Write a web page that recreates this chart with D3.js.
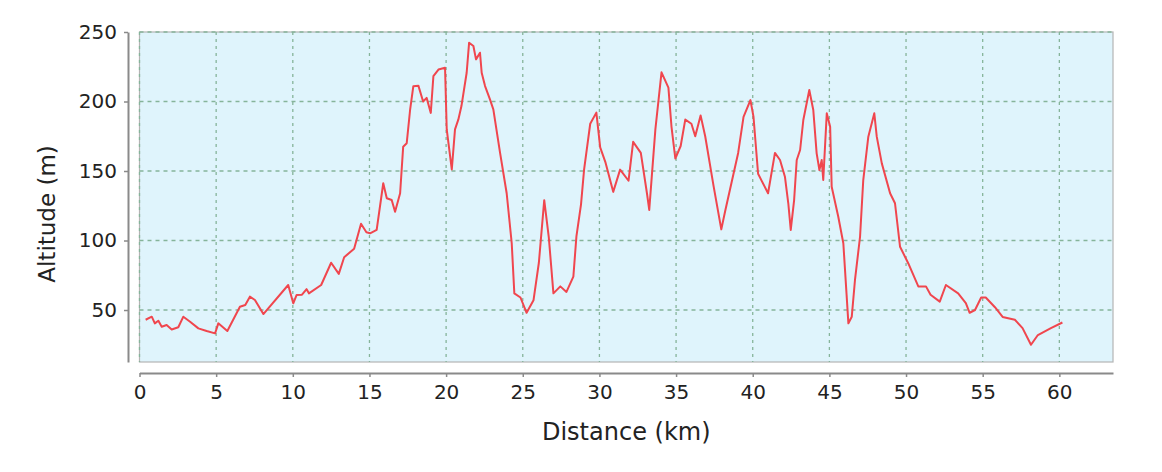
<!DOCTYPE html>
<meta charset="utf-8">
<html>
<head>
	<script src="https://d3js.org/d3.v7.min.js"></script>
	<style>
		body { margin: 0; background: #fff; }
		text { font-family: "DejaVu Sans", sans-serif; fill: #222; }
	</style>
</head>
<body>
<div id="profilo"></div>
<script>

// distance (km) and altitude (m)
var distanza = [0.4, 0.8, 1.0, 1.23, 1.45, 1.77, 2.1, 2.53, 2.86, 3.3, 3.84, 4.38, 4.93, 5.14, 5.73, 6.55, 6.9, 7.2, 7.53, 8.08,
  9.7, 10.03, 10.25, 10.6, 10.9, 11.05, 11.85, 12.5, 13.0, 13.35, 14.0, 14.45, 14.8, 15.04, 15.47, 15.9, 16.13, 16.45, 16.67, 17.0,
  17.2, 17.43, 17.65, 17.86, 18.19, 18.5, 18.73, 19.0, 19.17, 19.5, 19.93, 20.04, 20.37, 20.58, 20.8, 21.0, 21.34, 21.5, 21.78, 21.95,
  22.21, 22.32, 22.54, 22.86, 23.08, 23.52, 23.95, 24.28, 24.45, 24.85, 25.25, 25.7, 26.05, 26.4, 26.7, 27.0, 27.45, 27.85, 28.3, 28.5,
  28.8, 29.0, 29.4, 29.8, 30.05, 30.4, 30.9, 31.35, 31.9, 32.2, 32.7, 33.1, 33.25, 33.65, 34.05, 34.5, 34.7, 34.95, 35.3, 35.6,
  36.0, 36.25, 36.6, 36.9, 37.45, 37.95, 38.2, 39.05, 39.4, 39.85, 40.05, 40.35, 41.0, 41.45, 41.78, 42.1, 42.32, 42.48, 42.7, 42.87,
  43.09, 43.3, 43.69, 43.95, 44.17, 44.35, 44.5, 44.6, 44.83, 45.05, 45.15, 45.58, 45.91, 46.24, 46.46, 46.67, 47.0, 47.21, 47.54, 47.93,
  48.09, 48.42, 48.96, 49.28, 49.61, 50.15, 50.8, 51.3, 51.6, 52.2, 52.6, 53.4, 53.9, 54.15, 54.5, 54.9, 55.2, 55.8, 56.3, 57.1,
  57.6, 58.15, 58.6, 59.45, 60.2];
var altitudine = [43, 45.2, 40.4, 42.3, 38, 39.2, 36, 37.6, 45.2, 41.6, 36.8, 34.9, 33.2, 40.4, 34.9, 52.4, 53.6, 59.6, 57.2, 47.1,
  68, 54.8, 60.8, 61, 65, 62, 68, 84, 76, 88, 94, 112, 106, 105.2, 107.6, 141.2, 130.4, 129.1, 120.7, 134,
  167.5, 170, 193.9, 210.9, 211.4, 200, 202.6, 191.8, 218.2, 223, 224.3, 179.9, 151.1, 179.9, 187.1, 196.7, 220.7, 242.3, 239.9, 230.3,
  235.1, 220.7, 211.1, 201.5, 194.3, 163.1, 134, 98, 62, 59, 48, 57, 84, 129, 102, 62, 67, 63, 74, 103,
  126, 151, 184, 192, 167, 156, 135, 151, 143, 171, 163, 134, 122, 180, 221, 210, 182, 159, 168, 187,
  184, 175, 190, 175, 139, 108, 121, 163, 189, 201, 189, 148, 134, 163, 157.9, 145.9, 126.8, 107.6, 129.1, 157.9,
  165.1, 186.7, 208.3, 193.9, 162.7, 150.7, 157.9, 143.5, 191.5, 181.9, 138.7, 117.1, 98, 40.4, 45.2, 71.6, 102.7, 143.5, 174.7, 191.5,
  174.7, 155.5, 134, 126.8, 95.5, 83.5, 67, 67, 61, 56, 68, 62, 55, 48, 50, 59, 59, 52, 45, 43,
  37, 25, 32, 37, 41];

var tickX = [0, 5, 10, 15, 20, 25, 30, 35, 40, 45, 50, 55, 60];
var tickY = [50, 100, 150, 200, 250];

var larghezza = 1162, altezza = 472;
var area = {left: 139.5, right: 1113, top: 32, bottom: 362};

var svg = d3.select("#profilo")
  .append("svg")
    .attr("width", larghezza)
    .attr("height", altezza);

var x = d3.scaleLinear()
  .domain([0, 63.5])
  .range([area.left, area.right]);

var y = d3.scaleLinear()
  .domain([12.6, 250])
  .range([area.bottom, area.top]);

// plot background
svg.append("rect")
  .attr("x", area.left)
  .attr("y", area.top)
  .attr("width", area.right - area.left)
  .attr("height", area.bottom - area.top)
  .attr("fill", "#dff4fc")
  .attr("stroke", "#b4b4b4")
  .attr("stroke-width", 1.2);

// grid
svg.append("g")
  .selectAll("line.vgrid")
  .data(tickX)
  .enter()
  .append("line")
  .attr("x1", function(d) { return x(d); })
  .attr("x2", function(d) { return x(d); })
  .attr("y1", area.top)
  .attr("y2", area.bottom)
  .attr("stroke", "#86b49a")
  .attr("stroke-width", 1.3)
  .attr("stroke-dasharray", "3,4");

svg.append("g")
  .selectAll("line.hgrid")
  .data(tickY)
  .enter()
  .append("line")
  .attr("x1", area.left)
  .attr("x2", area.right)
  .attr("y1", function(d) { return y(d); })
  .attr("y2", function(d) { return y(d); })
  .attr("stroke", "#86b49a")
  .attr("stroke-width", 1.3)
  .attr("stroke-dasharray", "4,4");

// altitude line
var punti = distanza.map(function(d, i) { return [d, altitudine[i]]; });
svg.append("path")
  .datum(punti)
  .attr("fill", "none")
  .attr("stroke", "#f0464e")
  .attr("stroke-width", 2)
  .attr("stroke-linejoin", "round")
  .attr("d", d3.line()
    .x(function(d) { return x(d[0]); })
    .y(function(d) { return y(d[1]); }));

// axes
var asseX = svg.append("g")
  .attr("transform", "translate(0," + 373 + ")")
  .call(d3.axisBottom(x).tickValues(tickX).tickSize(4).tickPadding(8).tickSizeOuter(0));

var asseY = svg.append("g")
  .attr("transform", "translate(" + 128 + ",0)")
  .call(d3.axisLeft(y).tickValues(tickY).tickSize(4).tickPadding(7).tickSizeOuter(0));

[asseX, asseY].forEach(function(a) {
  a.select(".domain").attr("stroke", "#8a8a8a").attr("stroke-width", 2);
  a.selectAll(".tick line").attr("stroke", "#8a8a8a").attr("stroke-width", 1.5);
  a.selectAll(".tick text")
    .style("font-family", "DejaVu Sans, sans-serif")
    .style("font-size", "20px")
    .attr("fill", "#222");
});

svg.append("text")
  .attr("x", (area.left + area.right) / 2)
  .attr("y", 440)
  .attr("text-anchor", "middle")
  .style("font-size", "24px")
  .text("Distance (km)");

svg.append("text")
  .attr("transform", "translate(55," + 214 + ") rotate(-90)")
  .attr("text-anchor", "middle")
  .style("font-size", "23px")
  .text("Altitude (m)");

</script>
</body>
</html>
